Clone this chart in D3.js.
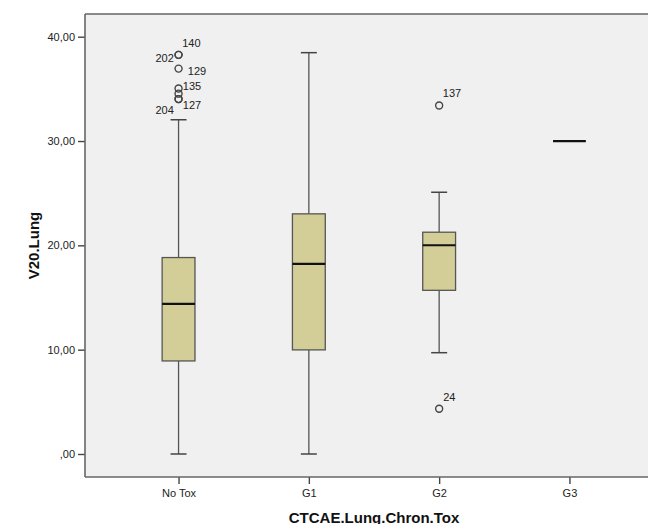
<!DOCTYPE html>
<html>
<head>
<meta charset="utf-8">
<script src="https://cdn.jsdelivr.net/npm/d3@7"></script>
<style>
html,body{margin:0;padding:0;background:#fff;}
svg{display:block;font-family:"Liberation Sans",Arial,sans-serif;}
</style>
</head>
<body>
<svg id="chart" width="648" height="524"></svg>
<script>
// ---- data ----
const categories = ["No Tox", "G1", "G2", "G3"];
const whiskerLow  = [0.00, 0.00, 9.71, 30.00];
const q1          = [8.92, 9.98, 15.69, 30.00];
const median      = [14.39, 18.23, 20.01, 30.00];
const q3          = [18.83, 23.02, 21.26, 30.00];
const whiskerHigh = [32.04, 38.47, 25.09, 30.00];

const outlierCategory = ["No Tox", "No Tox", "No Tox", "No Tox", "No Tox", "No Tox", "No Tox", "G2", "G2"];
const outlierValue    = [38.26, 38.26, 36.94, 35.04, 34.54, 34.02, 34.02, 33.40, 4.34];
const outlierLabel    = ["140", "202", "129", "135", "", "127", "204", "137", "24"];

const yTicks = [0, 10, 20, 30, 40];
const yTitle = "V20.Lung";
const xTitle = "CTCAE.Lung.Chron.Tox";

// ---- layout (label placement relative to point) ----
const labelPlacement = [
  {dx: 3.7, dy: -11.7, anchor: "start"},
  {dx: -4.7, dy: 2.7, anchor: "end"},
  {dx: 9.3, dy: 2, anchor: "start"},
  {dx: 4.3, dy: -2.5, anchor: "start"},
  {dx: 0, dy: 0, anchor: "start"},
  {dx: 4.3, dy: 6, anchor: "start"},
  {dx: -4.7, dy: 11, anchor: "end"},
  {dx: 3.7, dy: -12.4, anchor: "start"},
  {dx: 4, dy: -12, anchor: "start"}
];

const svg = d3.select("#chart");
const plot = {left: 85, right: 663, top: 14, bottom: 477};

const x = d3.scalePoint().domain(categories).range([plot.left, plot.right]).padding(0.718);
const y = d3.scaleLinear().domain([0, 40]).range([454, 36.7]);

const boxW = x.step() * 0.252;
const capW = 16;
const strokeCol = "#555";

// plot background
svg.append("rect")
  .attr("x", plot.left).attr("y", plot.top)
  .attr("width", plot.right - plot.left).attr("height", plot.bottom - plot.top)
  .attr("fill", "#f0f0f0");

// top border
svg.append("line")
  .attr("x1", plot.left).attr("x2", plot.right)
  .attr("y1", plot.top).attr("y2", plot.top)
  .attr("stroke", "#666").attr("stroke-width", 1.6);

// y axis
const yAxis = d3.axisLeft(y).tickValues(yTicks).tickSize(7).tickPadding(3)
  .tickFormat(d => d === 0 ? ",00" : d.toFixed(2).replace(".", ","));
const gy = svg.append("g").attr("transform", `translate(${plot.left},0)`).call(yAxis);
gy.select(".domain").remove();
gy.selectAll(".tick line").attr("stroke", "#444").attr("stroke-width", 1.4);
gy.selectAll(".tick text").attr("fill", "#222").style("font-size", "11px");
svg.append("line")
  .attr("x1", plot.left).attr("x2", plot.left)
  .attr("y1", plot.top).attr("y2", plot.bottom)
  .attr("stroke", "#666").attr("stroke-width", 1.6);

// x axis
const xAxis = d3.axisBottom(x).tickSize(7).tickPadding(5);
const gx = svg.append("g").attr("transform", `translate(0,${plot.bottom})`).call(xAxis);
gx.select(".domain").remove();
gx.selectAll(".tick line").attr("stroke", "#444").attr("stroke-width", 1.4);
gx.selectAll(".tick text").attr("fill", "#222").style("font-size", "11px");
svg.append("line")
  .attr("x1", plot.left).attr("x2", plot.right)
  .attr("y1", plot.bottom).attr("y2", plot.bottom)
  .attr("stroke", "#666").attr("stroke-width", 1.6);

// boxes
const stats = categories.map((c, i) => ({
  c, lo: whiskerLow[i], q1: q1[i], med: median[i], q3: q3[i], hi: whiskerHigh[i]
}));

const g = svg.append("g");
stats.forEach(s => {
  const cx = x(s.c);
  if (s.q3 > s.q1) {
    g.append("line").attr("x1", cx).attr("x2", cx).attr("y1", y(s.q3)).attr("y2", y(s.hi))
      .attr("stroke", strokeCol).attr("stroke-width", 1.3);
    g.append("line").attr("x1", cx).attr("x2", cx).attr("y1", y(s.q1)).attr("y2", y(s.lo))
      .attr("stroke", strokeCol).attr("stroke-width", 1.3);
    [s.hi, s.lo].forEach(v => {
      g.append("line").attr("x1", cx - capW / 2).attr("x2", cx + capW / 2)
        .attr("y1", y(v)).attr("y2", y(v))
        .attr("stroke", "#444").attr("stroke-width", 1.5);
    });
    g.append("rect")
      .attr("x", cx - boxW / 2).attr("y", y(s.q3))
      .attr("width", boxW).attr("height", y(s.q1) - y(s.q3))
      .attr("fill", "#d3ce97").attr("stroke", "#555").attr("stroke-width", 1.3);
  }
  g.append("line")
    .attr("x1", cx - boxW / 2).attr("x2", cx + boxW / 2)
    .attr("y1", y(s.med)).attr("y2", y(s.med))
    .attr("stroke", "#111").attr("stroke-width", 2.2);
});

// outliers
outlierValue.forEach((v, i) => {
  const cx = x(outlierCategory[i]);
  const cy = y(v);
  g.append("circle").attr("cx", cx).attr("cy", cy).attr("r", 3.5)
    .attr("fill", "none").attr("stroke", "#444").attr("stroke-width", 1.4);
  if (outlierLabel[i]) {
    const p = labelPlacement[i];
    g.append("text")
      .attr("x", cx + p.dx).attr("y", cy + p.dy)
      .attr("text-anchor", p.anchor)
      .attr("dominant-baseline", "central")
      .attr("fill", "#222").style("font-size", "11px")
      .text(outlierLabel[i]);
  }
});

// titles
svg.append("text")
  .attr("transform", `translate(33,${(plot.top + plot.bottom) / 2}) rotate(-90)`)
  .attr("text-anchor", "middle").attr("dominant-baseline", "central")
  .style("font-size", "15px").style("font-weight", "bold").attr("fill", "#111")
  .text(yTitle);

svg.append("text")
  .attr("x", (plot.left + plot.right) / 2).attr("y", 517)
  .attr("text-anchor", "middle").attr("dominant-baseline", "central")
  .style("font-size", "15px").style("font-weight", "bold").attr("fill", "#111")
  .text(xTitle);
</script>
</body>
</html>
